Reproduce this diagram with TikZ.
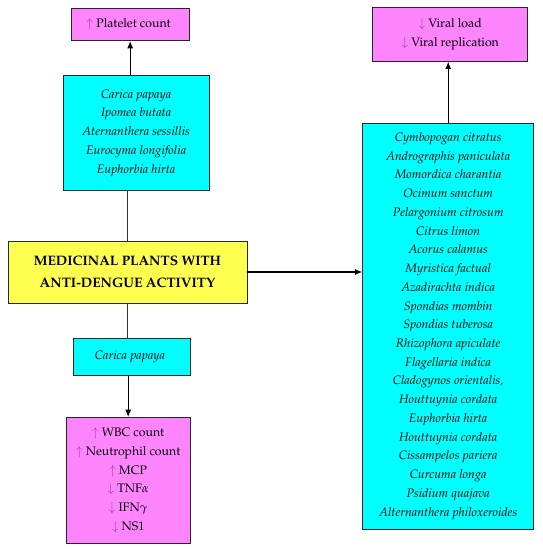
\documentclass[tikz,border=0pt]{standalone}
\usepackage[T1]{fontenc}
\usepackage{mathpazo}
\usepackage{tikz}
\usetikzlibrary{arrows.meta,positioning,shadows}
\definecolor{effpink}{HTML}{FF85FF}
\definecolor{plantcyan}{HTML}{00FFFF}
\definecolor{titleyellow}{HTML}{FFFF50}
\definecolor{arrowmauve}{HTML}{A04090}
\newcommand{\incr}{\textcolor{arrowmauve}{$\uparrow$}}
\newcommand{\decr}{\textcolor{arrowmauve}{$\downarrow$}}

\begin{document}
\begin{tikzpicture}[
  font=\fontsize{10.5}{16}\selectfont,
  box/.style={draw=black!85, rectangle, align=center, inner sep=2pt, line width=0.6pt,
    drop shadow={shadow xshift=0.6pt, shadow yshift=-0.6pt, fill=black!35}},
  plantbox/.style={box, fill=plantcyan, font=\fontsize{10.5}{16}\selectfont\itshape},
  effbox/.style={box, fill=effpink},
  titlebox/.style={box, fill=titleyellow, font=\fontsize{11.7}{18.7}\selectfont\bfseries},
  link/.style={draw=black!80, line width=0.8pt},
  arr/.style={draw=black, line width=0.9pt, -{Latex[length=2.2mm,width=1.8mm]}}
]
\useasboundingbox (0,0) rectangle (16.29,16.5);

\node[titlebox, minimum width=7.17cm, minimum height=1.86cm] (plants) at (3.825,8.34) {
  MEDICINAL PLANTS WITH\\ ANTI-DENGUE ACTIVITY
};
\node[plantbox, minimum width=4.38cm, minimum height=3.45cm, above=1.5cm of plants, xshift=0.26cm] (platplants) {
  Carica papaya\\ Ipomea butata\\ Aternanthera sessillis\\ Eurocyma longifolia\\ Euphorbia hirta
};
\node[effbox, minimum width=3.54cm, minimum height=0.96cm, above=1.02cm of platplants, xshift=-0.18cm] (platelet) {
  \incr\ Platelet count
};
\node[plantbox, minimum width=3.51cm, minimum height=1.11cm, below=1.05cm of plants, xshift=0.12cm] (papaya) {
  Carica papaya
};
\node[effbox, minimum width=3.72cm, minimum height=3.78cm, below=1.23cm of papaya, xshift=-0.1cm] (immune) {
  \incr\ WBC count\\ \incr\ Neutrophil count\\ \incr\ MCP\\ \decr\ TNF$\alpha$\\ \decr\ IFN$\gamma$\\ \decr\ NS1
};
\node[plantbox, minimum width=5.13cm, minimum height=12.18cm, right=3.45cm of plants, yshift=-1.62cm] (antiviral) {
  Cymbopogan citratus\\ Andrographis paniculata\\ Momordica charantia\\ Ocimum sanctum\\
  Pelargonium citrosum\\ Citrus limon\\ Acorus calamus\\ Myristica factual\\
  Azadirachta indica\\ Spondias mombin\\ Spondias tuberosa\\ Rhizophora apiculate\\
  Flagellaria indica\\ Cladogynos orientalis,\\ Houttuynia cordata\\ Euphorbia hirta\\
  Houttuynia cordata\\ Cissampelos pariera\\ Curcuma longa\\ Psidium quajava\\
  Alternanthera philoxeroides
};
\node[effbox, minimum width=4.65cm, minimum height=1.62cm, above=1.83cm of antiviral, xshift=0.06cm] (viral) {
  \decr\ Viral load\\ \decr\ Viral replication
};

\draw[link] (plants.north) -- (plants.north |- platplants.south);
\draw[arr] (platplants.north -| platelet.south) -- (platelet.south);
\draw[link] (plants.south) -- (plants.south |- papaya.north);
\draw[arr] (immune.north |- papaya.south) -- (immune.north);
\draw[arr] (plants.east) -- (plants.east -| antiviral.west);
\draw[arr] (antiviral.north) -- (antiviral.north |- viral.south);
\end{tikzpicture}
\end{document}
